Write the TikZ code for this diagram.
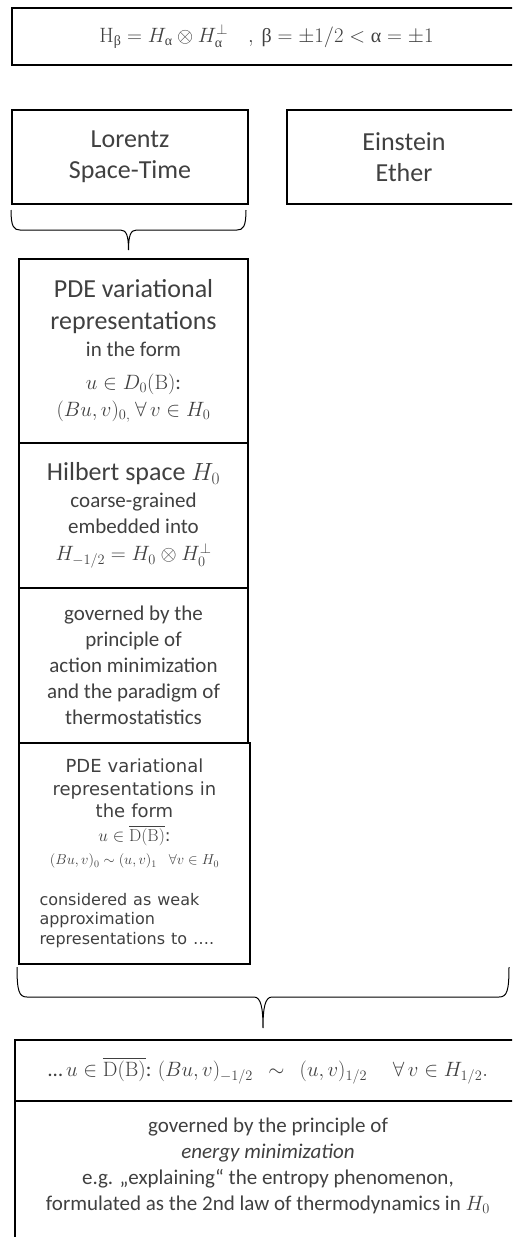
\documentclass[tikz,border=0pt]{standalone}
\usepackage{amsmath}
\usepackage{amssymb}
\usepackage[no-math]{fontspec}
\setmainfont{Carlito}
\newfontfamily\verdana{DejaVu Sans}
\newfontfamily\grk{Liberation Serif}
\usetikzlibrary{calc}

\begin{document}
\begin{tikzpicture}[x=1pt, y=-1pt,
	box/.style={draw, line width=1.3pt, align=center, inner sep=0pt, outer sep=0pt, text=black!75,
		font=\fontsize{21}{26}\selectfont},
	cutbox/.style={box, draw=none},
	big/.style={font=\fontsize{26}{31}\selectfont},
	brc/.style={line width=1pt}]
	
	\useasboundingbox (0,0) rectangle (512,1237);
	\clip (0,0) rectangle (512,1237);
	
	\node[cutbox, minimum width=509, minimum height=57, font=\fontsize{20}{24}\selectfont] (top) at (266.5,36.5) {\(\mathrm{H}_{\text{\grk β}} = H_{\text{\grk α}}\otimes H_{\text{\grk α}}^{\perp}\quad,\ \text{\grk β}=\pm1/2<\text{\grk α}=\pm1\)};
	
	\node[box, big, minimum width=236, minimum height=94] (lor) at (130,157) {Lorentz\\Space-Time};
	
	\node[cutbox, big, minimum width=234, minimum height=94] (ein) at (404,157) {Einstein\\Ether};
	
	\node[box, minimum width=229, minimum height=184] (pde) at (133.5,351) {{\fontsize{26}{31}\selectfont PDE variational}\\[6pt]{\fontsize{26}{31}\selectfont representations}\\[1pt]in the form\\[7pt]\(u\in D_0(\mathrm{B})\):\\[1pt]\((Bu,v)_{0,}\ \forall\,v\in H_0\)};
	
	\node[box, minimum width=229, minimum height=145] (hil) at (133.5,515.5) {{\fontsize{26}{31}\selectfont Hilbert space \(H_0\)}\\[1pt]coarse-grained\\embedded into\\[1pt]\(H_{-1/2}=H_0\otimes H_0^{\perp}\)};
	
	\node[box, minimum width=229, minimum height=155] (gov) at (133.5,665.5) {governed by the\\principle of\\action minimization\\and the paradigm of\\thermostatistics};
	
	\node[box, align=left, minimum width=231, minimum height=221, text width=190, font=\verdana\fontsize{18}{22.5}\selectfont] (weak) at (134.5,853.5) {{\centering PDE variational\\representations in\\the form\par}{\centering\fontsize{17}{24}\selectfont\(u\in\overline{\mathrm{D(B)}}\):\par}{\centering\fontsize{14}{23}\selectfont\((Bu,v)_0\sim(u,v)_1\ \ \forall v\in H_0\)\par}\vspace{21pt}{\fontsize{16}{19.5}\selectfont considered as weak\\approximation\\representations to ….\par}};
	
	\node[cutbox, minimum width=506, minimum height=61] (fml) at (268,1070.5) {…\,\(u\in\overline{\mathrm{D(B)}}\): \((Bu,v)_{-1/2}\ \ \sim\ \ (u,v)_{1/2}\quad\ \forall\,v\in H_{1/2}.\)};
	
	\node[text=black!75, align=center, inner sep=0pt, font=\fontsize{21}{26}\selectfont] (eng) at (268,1166) {governed by the principle of\\\textit{energy minimization}\\e.g. „explaining“ the entropy phenomenon,\\formulated as the 2nd law of thermodynamics in \(H_0\)};
	
	% boxes running off the right edge
	\draw[line width=2pt] (top.north east) -- (top.north west) -- (top.south west) -- (top.south east);
	\draw[line width=1.3pt] (ein.north east) -- (ein.north west) -- (ein.south west) -- (ein.south east);
	\draw[line width=1.3pt] (fml.north east) -- (fml.north west) -- ($(fml.south west)+(0,150)$);
	\draw[line width=1.3pt] (fml.south west) -- (fml.south east);
	
	% braces
	\coordinate (bl) at (11,210);
	\coordinate (br) at (246,210);
	\coordinate (bt) at (128.5,250);
	\draw[brc] (bl) .. controls +(0,17) and +(-6,0) .. ($(bl)+(9,20)$) -- ($(bt)+(-8,-20)$) .. controls +(6,0) and +(0,-14) .. (bt) .. controls +(0,-14) and +(-6,0) .. ($(bt)+(8,-20)$) -- ($(br)+(-9,20)$) .. controls +(6,0) and +(0,17) .. (br);
	
	\coordinate (Bl) at (17,967);
	\coordinate (Br) at (509,967);
	\coordinate (Bt) at (263,1028);
	\draw[brc] (Bl) .. controls +(0,24) and +(-8,0) .. ($(Bl)+(10,30)$) -- ($(Bt)+(-9,-31)$) .. controls +(7,0) and +(0,-20) .. (Bt) .. controls +(0,-20) and +(-7,0) .. ($(Bt)+(9,-31)$) -- ($(Br)+(-10,30)$) .. controls +(8,0) and +(0,24) .. (Br);
	
\end{tikzpicture}
\end{document}
